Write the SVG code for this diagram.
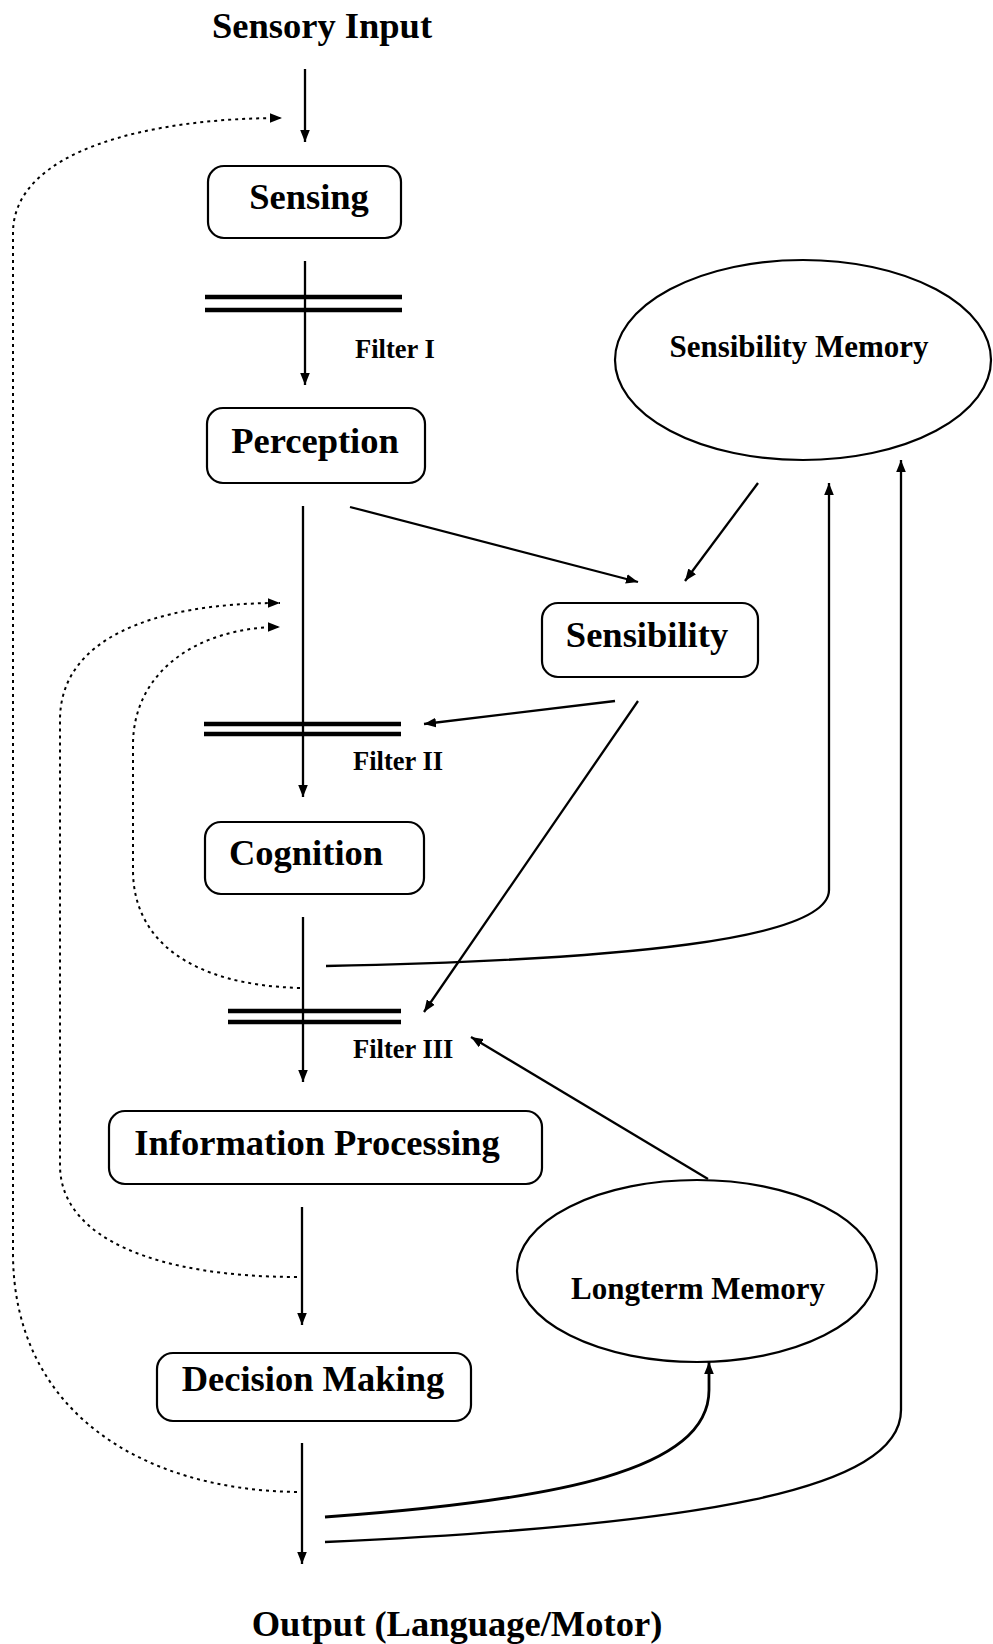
<svg xmlns="http://www.w3.org/2000/svg" width="993" height="1644" viewBox="0 0 993 1644">
<defs>
<style>
.t{font-family:"Liberation Serif","Times New Roman",serif;font-weight:bold;fill:#000}
.big{font-size:36.5px}
.mem{font-size:31px}
.flt{font-size:26.5px}
.box{fill:#fff;stroke:#000;stroke-width:2.2}
.ell{fill:#fff;stroke:#000;stroke-width:2.2}
.ln{fill:none;stroke:#000;stroke-width:2.3}
.dot{fill:none;stroke:#000;stroke-width:2;stroke-dasharray:3 4}
.flt-line{stroke:#000;stroke-width:4.5}
</style>
<marker id="ah" viewBox="0 0 10 8" refX="10" refY="4" markerWidth="12" markerHeight="10" markerUnits="userSpaceOnUse" orient="auto"><path d="M0,0 L10,4 L0,8 z" fill="#000"/></marker>
</defs>
<rect width="993" height="1644" fill="#fff"/>

<g id="connectors">
<line class="ln" x1="305" y1="69" x2="305" y2="142" marker-end="url(#ah)"/>
<line class="ln" x1="305" y1="261" x2="305" y2="385" marker-end="url(#ah)"/>
<line class="ln" x1="303" y1="506" x2="303" y2="797" marker-end="url(#ah)"/>
<line class="ln" x1="303" y1="917" x2="303" y2="1082" marker-end="url(#ah)"/>
<line class="ln" x1="302" y1="1207" x2="302" y2="1325" marker-end="url(#ah)"/>
<line class="ln" x1="302" y1="1443" x2="302" y2="1564" marker-end="url(#ah)"/>
<line class="ln" x1="350" y1="507" x2="638" y2="582" marker-end="url(#ah)"/>
<line class="ln" x1="758" y1="483" x2="685" y2="581" marker-end="url(#ah)"/>
<line class="ln" x1="615" y1="701" x2="424" y2="724" marker-end="url(#ah)"/>
<line class="ln" x1="638" y1="701" x2="424" y2="1012" marker-end="url(#ah)"/>
<path class="ln" d="M326,966 C620,960 829,940 829,890 L829,483" marker-end="url(#ah)"/>
<line class="ln" x1="708" y1="1179" x2="471" y2="1037" marker-end="url(#ah)"/>
<path class="ln" style="stroke-width:2.8" d="M325,1517 C560,1500 709,1470 709,1390 L709,1362" marker-end="url(#ah)"/>
<path class="ln" d="M325,1542 C700,1525 901,1490 901,1410 L901,460" marker-end="url(#ah)"/>
<path class="dot" d="M297,1492 C140,1490 13,1410 13,1253 L13,233 C13,150 150,118 282,118" marker-end="url(#ah)"/>
<path class="dot" d="M297,1277 C160,1277 60,1240 60,1165 L60,720 C60,640 150,603 280,603" marker-end="url(#ah)"/>
<path class="dot" d="M300,988 C190,985 133,940 133,870 L133,745 C133,670 200,627 280,627" marker-end="url(#ah)"/>
</g>

<g id="sensory-input"><text class="t big" x="322" y="38" text-anchor="middle">Sensory Input</text></g>
<g id="sensing"><rect class="box" x="208" y="166" width="193" height="72" rx="16"/><text class="t big" x="309" y="209" text-anchor="middle">Sensing</text></g>
<g id="filter-1"><line class="flt-line" x1="205" y1="297" x2="402" y2="297"/><line class="flt-line" x1="205" y1="310" x2="402" y2="310"/><text class="t flt" x="355" y="358">Filter I</text></g>
<g id="perception"><rect class="box" x="207" y="408" width="218" height="75" rx="16"/><text class="t big" x="315" y="453" text-anchor="middle">Perception</text></g>
<g id="sensibility-memory"><ellipse class="ell" cx="803" cy="360" rx="188" ry="100"/><text class="t mem" x="799" y="357" text-anchor="middle">Sensibility Memory</text></g>
<g id="sensibility"><rect class="box" x="542" y="603" width="216" height="74" rx="16"/><text class="t big" x="647" y="647" text-anchor="middle">Sensibility</text></g>
<g id="filter-2"><line class="flt-line" x1="204" y1="724" x2="401" y2="724"/><line class="flt-line" x1="204" y1="734" x2="401" y2="734"/><text class="t flt" x="353" y="770">Filter II</text></g>
<g id="cognition"><rect class="box" x="205" y="822" width="219" height="72" rx="16"/><text class="t big" x="306" y="865" text-anchor="middle">Cognition</text></g>
<g id="filter-3"><line class="flt-line" x1="228" y1="1011" x2="401" y2="1011"/><line class="flt-line" x1="228" y1="1022" x2="401" y2="1022"/><text class="t flt" x="353" y="1058">Filter III</text></g>
<g id="information-processing"><rect class="box" x="109" y="1111" width="433" height="73" rx="16"/><text class="t big" x="317" y="1155" text-anchor="middle">Information Processing</text></g>
<g id="longterm-memory"><ellipse class="ell" cx="697" cy="1271" rx="180" ry="91"/><text class="t mem" x="698" y="1299" text-anchor="middle">Longterm Memory</text></g>
<g id="decision-making"><rect class="box" x="157" y="1353" width="314" height="68" rx="16"/><text class="t big" x="313" y="1391" text-anchor="middle">Decision Making</text></g>
<g id="output"><text class="t big" x="457" y="1636" text-anchor="middle">Output (Language/Motor)</text></g>
</svg>
